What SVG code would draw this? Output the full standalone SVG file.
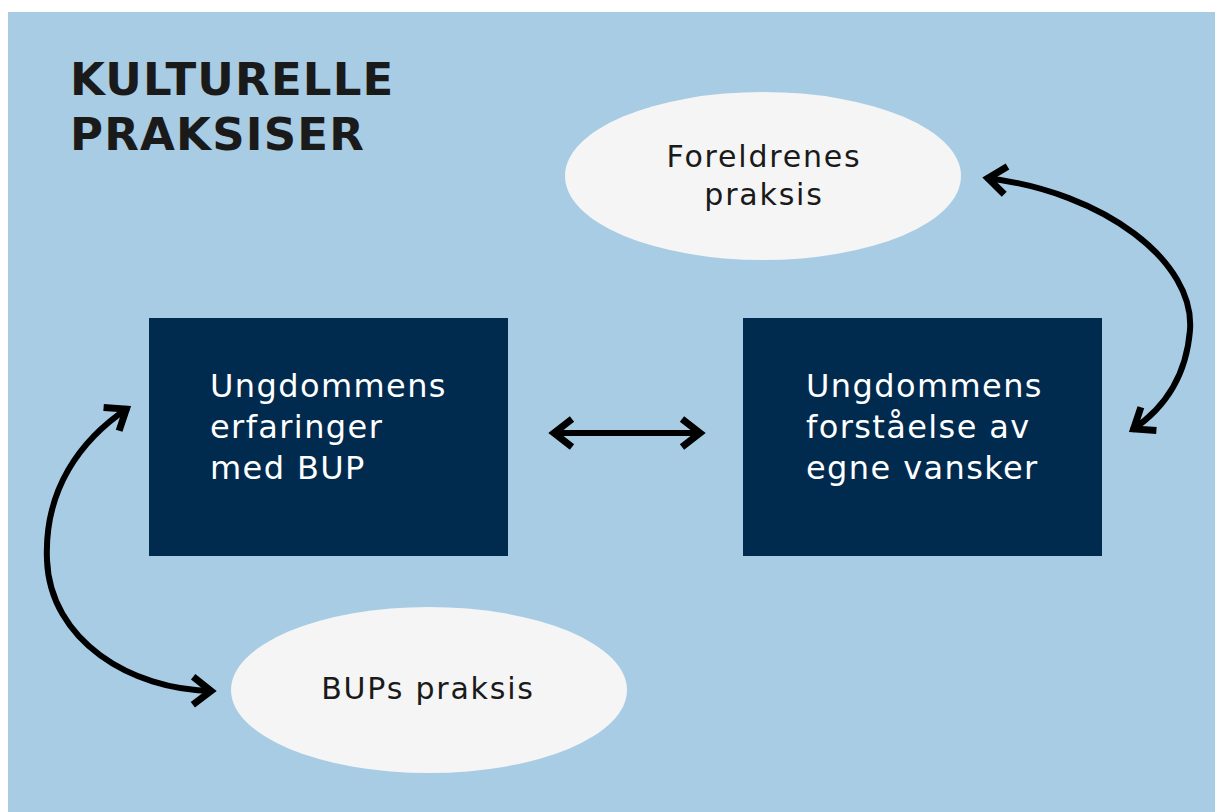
<svg xmlns="http://www.w3.org/2000/svg" width="1215" height="812" viewBox="0 0 1215 812">
<defs>
<style>
.title{font-family:"DejaVu Sans",Verdana,sans-serif;font-weight:bold;font-size:45px;letter-spacing:1.2px;fill:#1a1a1a}
.box{fill:#002b4f}
.bt{font-family:"DejaVu Sans",Verdana,sans-serif;font-size:32px;letter-spacing:1.4px;fill:#ffffff}
.ell{fill:#f5f5f5}
.et{font-family:"DejaVu Sans",Verdana,sans-serif;font-size:30px;letter-spacing:1.8px;fill:#1a1a1a;text-anchor:middle}
.con{fill:none;stroke:#000;stroke-width:6}
</style>
<marker id="ah" markerUnits="userSpaceOnUse" markerWidth="50" markerHeight="50" viewBox="-25 -25 50 50" refX="0" refY="0" orient="auto-start-reverse">
<path d="M-20,-14 L-2,0 L-20,14" fill="none" stroke="#000" stroke-width="7" stroke-linejoin="miter" stroke-miterlimit="10"/>
</marker>
</defs>
<rect x="0" y="0" width="1215" height="812" fill="#ffffff"/>
<rect x="8" y="12" width="1207" height="800" fill="#a8cce4"/>
<g id="title">
<text class="title" x="70" y="95">KULTURELLE</text>
<text class="title" x="70" y="150">PRAKSISER</text>
</g>
<g id="node-erfaringer">
<rect class="box" x="149" y="318" width="359" height="238"/>
<text class="bt" x="210" y="397">Ungdommens</text>
<text class="bt" x="210" y="438">erfaringer</text>
<text class="bt" x="210" y="479">med BUP</text>
</g>
<g id="node-forstaelse">
<rect class="box" x="743" y="318" width="359" height="238"/>
<text class="bt" x="806" y="397">Ungdommens</text>
<text class="bt" x="806" y="438">forståelse av</text>
<text class="bt" x="806" y="479">egne vansker</text>
</g>
<g id="node-foreldrenes">
<ellipse class="ell" cx="763" cy="176" rx="198" ry="84"/>
<text class="et" x="764" y="167">Foreldrenes</text>
<text class="et" x="764" y="205">praksis</text>
</g>
<g id="node-bups">
<ellipse class="ell" cx="429" cy="690" rx="198" ry="83"/>
<text class="et" x="428" y="699">BUPs praksis</text>
</g>
<g id="connectors">
<path class="con" d="M552,433 L702,433" marker-start="url(#ah)" marker-end="url(#ah)"/>
<path class="con" d="M986,178 C1105,192 1195,262 1190,330 C1186,380 1162,410 1132,430" marker-start="url(#ah)" marker-end="url(#ah)"/>
<path class="con" d="M128,408 C80,440 44,490 47,560 C50,640 130,690 213,691" marker-start="url(#ah)" marker-end="url(#ah)"/>
</g>
</svg>
